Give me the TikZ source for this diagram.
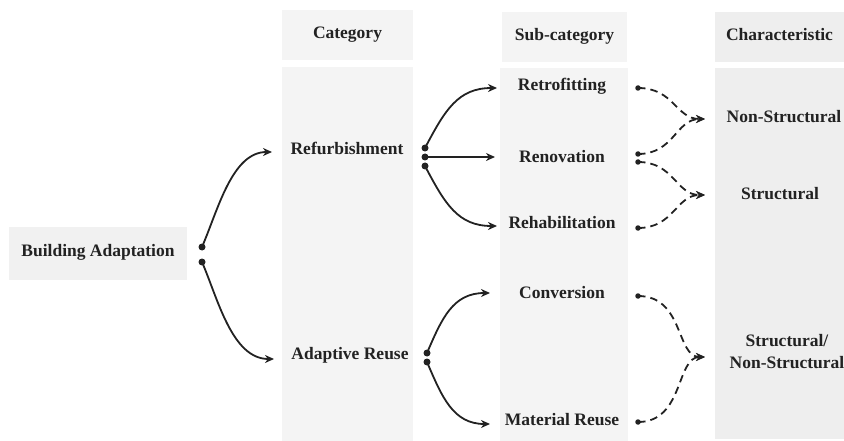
\documentclass[tikz,border=0pt]{standalone}
\usepackage{fontspec}
\setmainfont{Liberation Serif}
\usetikzlibrary{arrows.meta,calc}
\definecolor{boxA}{HTML}{F4F4F4}
\definecolor{boxB}{HTML}{EEEEEE}
\definecolor{boxC}{HTML}{F1F1F1}
\definecolor{ink}{HTML}{222222}
\begin{document}
\begin{tikzpicture}[x=1pt,y=-1pt,
  lbl/.style={font=\fontsize{17.5}{21.5}\selectfont\bfseries, text=ink, inner sep=0pt, text height=0.66em, text depth=0pt},
  hdr/.style={lbl, fill=boxA, minimum height=50pt},
  dotS/.style={circle, fill=ink, inner sep=0pt, minimum size=7pt},
  dotD/.style={circle, fill=ink, inner sep=0pt, minimum size=5.5pt},
  link/.style={line width=1.8pt, draw=ink, -{Stealth[length=9pt,width=8pt]}},
  dlink/.style={line width=1.8pt, draw=ink, dash pattern=on 7.5pt off 5pt, -{Stealth[length=9pt,width=8pt]}}
]
\useasboundingbox (0,0) rectangle (844,441);

% column panels
\fill[boxA] (282,67) rectangle (413,441);
\fill[boxA] (500,68) rectangle (628,441);
\fill[boxB] (715,68) rectangle (844,439);

% headers
\node[hdr, minimum width=131pt] (hcat) at (347.5,35) {Category};
\node[hdr, minimum width=125pt] (hsub) at (564.5,37) {Sub-category};
\node[hdr, minimum width=129pt, fill=boxB] (hchar) at (779.5,37) {Characteristic};

% main nodes
\node[lbl, fill=boxC, minimum width=178pt, minimum height=53pt] (ba) at (98,253) {Building Adaptation};
\node[lbl] (ref) at (347,151.5) {Refurbishment};
\node[lbl] (ar) at (350,356.5) {Adaptive Reuse};
\node[lbl] (ret) at (562,87.5) {Retrofitting};
\node[lbl] (ren) at (562,159) {Renovation};
\node[lbl] (reh) at (562,225.5) {Rehabilitation};
\node[lbl] (con) at (562,295.5) {Conversion};
\node[lbl] (mat) at (562,422) {Material Reuse};
\node[lbl] (ns) at (784,119) {Non-Structural};
\node[lbl] (st) at (780,196.5) {Structural};
\node[lbl, align=center, text height=, text depth=] (sns) at (787,351.5) {Structural/\\Non-Structural};

% dots
\node[dotS] (ba1) at (202,247) {};
\node[dotS] (ba2) at (202,262) {};
\node[dotS] (rf1) at (425,148) {};
\node[dotS] (rf2) at (425,157) {};
\node[dotS] (rf3) at (425,166) {};
\node[dotS] (ar1) at (427,353) {};
\node[dotS] (ar2) at (427,362) {};
\node[dotD] (d1) at (638,88) {};
\node[dotD] (d2) at (638,154) {};
\node[dotD] (d3) at (638,162) {};
\node[dotD] (d4) at (638,228) {};
\node[dotD] (d5) at (638,296) {};
\node[dotD] (d6) at (638,422) {};

% arrow end points
\coordinate (tRef) at (272,152);
\coordinate (tAR) at (274,359);
\coordinate (tRet) at (497,88);
\coordinate (tRen) at (495,157);
\coordinate (tReh) at (497,226);
\coordinate (tCon) at (490,293);
\coordinate (tMat) at (490,424);
\coordinate (tNS) at (705,119);
\coordinate (tST) at (705,195);
\coordinate (tSNS) at (705,357);

% solid connectors
\draw[link] (ba1.center) .. controls (218,210) and (232,152) .. (tRef);
\draw[link] (ba2.center) .. controls (218,299) and (232,359) .. (tAR);
\draw[link] (rf1.center) .. controls (445,110) and (458,88) .. (tRet);
\draw[link] (rf2.center) -- (tRen);
\draw[link] (rf3.center) .. controls (445,204) and (458,226) .. (tReh);
\draw[link] (ar1.center) .. controls (442,318) and (453,293) .. (tCon);
\draw[link] (ar2.center) .. controls (442,397) and (453,424) .. (tMat);

% dashed connectors
\draw[dlink] (d1.center) .. controls (674,88) and (676,119) .. (tNS);
\draw[dlink] (d2.center) .. controls (674,154) and (676,119) .. (tNS);
\draw[dlink] (d3.center) .. controls (674,162) and (676,195) .. (tST);
\draw[dlink] (d4.center) .. controls (674,228) and (676,195) .. (tST);
\draw[dlink] (d5.center) .. controls (684,296) and (676,357) .. (tSNS);
\draw[dlink] (d6.center) .. controls (684,422) and (676,357) .. (tSNS);
\end{tikzpicture}
\end{document}
